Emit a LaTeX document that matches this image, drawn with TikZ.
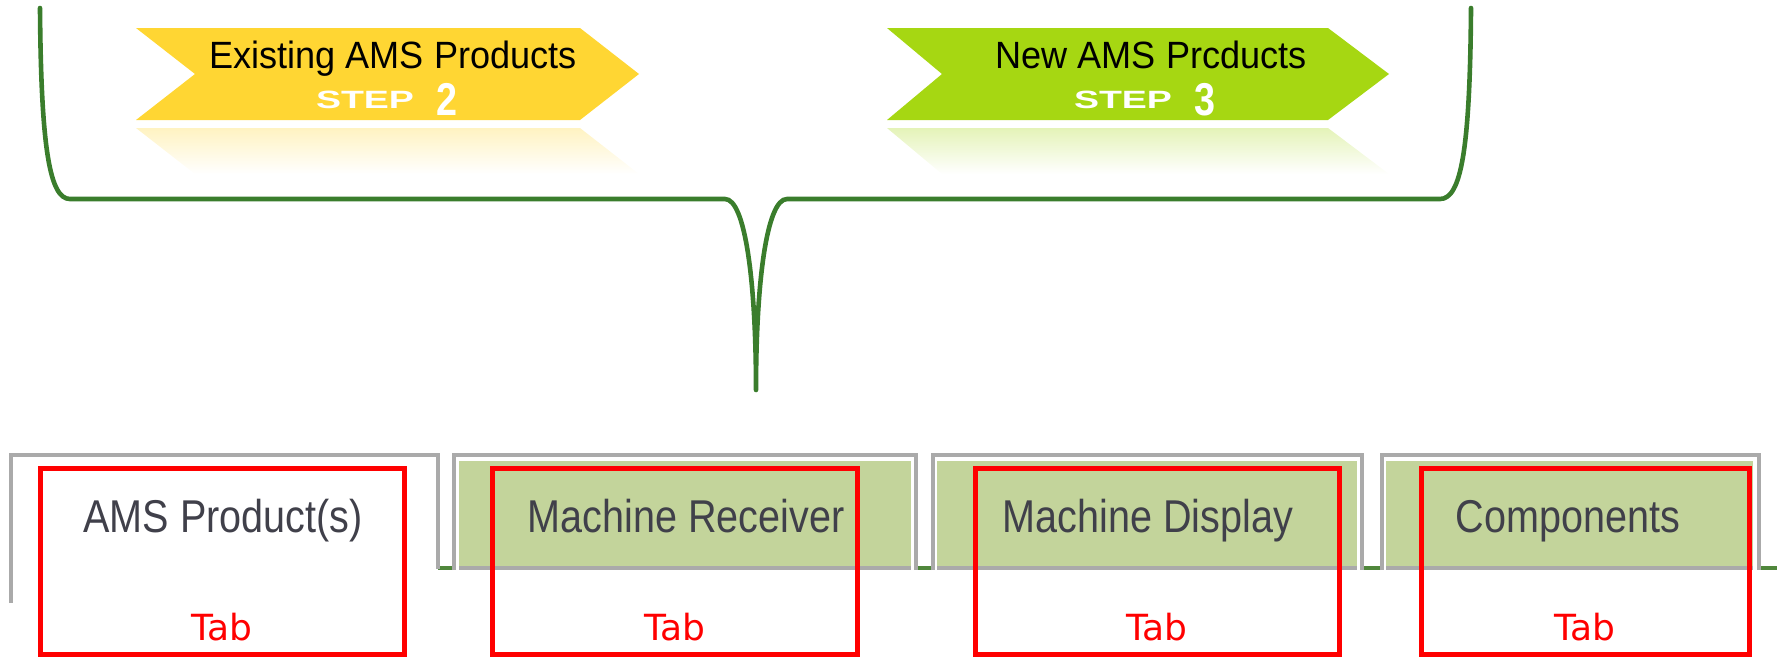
\documentclass[tikz,border=0pt]{standalone}
\usepackage{fontspec}
\setmainfont{Liberation Sans}
\newfontfamily\dejavu{DejaVu Sans}
\definecolor{bracegreen}{RGB}{58,125,44}
\definecolor{ylw}{RGB}{255,214,51}
\definecolor{limeg}{RGB}{166,215,18}
\definecolor{tabfill}{RGB}{195,212,155}
\definecolor{tabgray}{RGB}{170,170,170}
\definecolor{baseg}{RGB}{80,135,60}
\definecolor{labelc}{RGB}{64,64,74}
\begin{document}
\begin{tikzpicture}[x=1pt,y=-1pt,
  bracepath/.style={draw=bracegreen, line width=4.6pt, line cap=round, line join=round},
  bannertitle/.style={anchor=base, inner sep=0pt, text=black, font=\fontsize{38}{38}\selectfont},
  steptext/.style={anchor=base, inner sep=0pt, text=white, font=\bfseries\fontsize{25}{25}\selectfont},
  stepnum/.style={anchor=base, inner sep=0pt, text=white, font=\bfseries\fontsize{46}{46}\selectfont},
  tablabel/.style={anchor=base, inner sep=0pt, text=labelc, font=\fontsize{46}{46}\selectfont},
  tabtext/.style={anchor=base, inner sep=0pt, text=red, font=\dejavu\fontsize{36}{36}\selectfont},
  redbox/.style={draw=red, line width=5pt, inner sep=0pt, minimum height=186pt},
  taboutline/.style={draw=tabgray, line width=3.8pt},
  tabbottom/.style={draw=tabgray, line width=3.8pt},
  basegreen/.style={draw=baseg, line width=3.3pt},
]
\useasboundingbox (0,0) rectangle (1777,657);

% ---- brace ----
\coordinate (bl) at (40,8);
\coordinate (br) at (1471,8);
\coordinate (tip) at (756,390);
\path[bracepath] (bl) .. controls (41,150) and (50,199) .. (70,199)
  -- (725,199) .. controls (745,199) and (756,280) .. (tip)
  .. controls (756,280) and (767,199) .. (787,199)
  -- (1440,199) .. controls (1461,199) and (1470,150) .. (br);

% ---- banners ----
\shade[top color=ylw!30, bottom color=white] (136,128) -- (580,128) -- (639,174) -- (195,174) -- cycle;
\fill[ylw] (136,28) -- (580,28) -- (639,74) -- (580,120) -- (136,120) -- (195,74) -- cycle;
\node[bannertitle] (ex) at (393,68) {\scalebox{0.95}[1]{Existing AMS Products}};
\node[steptext] (exstep) at (365,108) {\scalebox{1.5}[1]{STEP}};
\node[stepnum] (exnum) at (446.5,115) {\scalebox{0.82}[1]{2}};

\shade[top color=limeg!30, bottom color=white] (887,128) -- (1328,128) -- (1389,174) -- (942,174) -- cycle;
\fill[limeg] (887,28) -- (1328,28) -- (1389,74) -- (1328,120) -- (887,120) -- (942,74) -- cycle;
\node[bannertitle] (nw) at (1151,68) {\scalebox{0.95}[1]{New AMS Prcducts}};
\node[steptext] (nwstep) at (1123,108) {\scalebox{1.5}[1]{STEP}};
\node[stepnum] (nwnum) at (1204.5,115) {\scalebox{0.82}[1]{3}};

% ---- green baseline segments ----
\draw[basegreen] (9,568) -- (13,568);
\draw[basegreen] (438,568) -- (454,568);
\draw[basegreen] (916,568) -- (933,568);
\draw[basegreen] (1362,568) -- (1382,568);
\draw[basegreen] (1759,568) -- (1777,568);

% ---- tabs ----
\draw[taboutline] (11,603) -- (11,455) -- (438,455) -- (438,569);

\fill[tabfill] (459,461) rectangle (911,567);
\draw[tabbottom] (459,568) -- (911,568);
\draw[taboutline] (454,570) -- (454,455) -- (916,455) -- (916,570);

\fill[tabfill] (937,461) rectangle (1357,567);
\draw[tabbottom] (937,568) -- (1357,568);
\draw[taboutline] (933,570) -- (933,455) -- (1362,455) -- (1362,570);

\fill[tabfill] (1386,461) rectangle (1753,567);
\draw[tabbottom] (1386,568) -- (1753,568);
\draw[taboutline] (1382,570) -- (1382,455) -- (1759,455) -- (1759,570);

\node[tablabel] (l1) at (223,532) {\scalebox{0.86}[1]{AMS Product(s)}};
\node[tablabel] (l2) at (686,532) {\scalebox{0.86}[1]{Machine Receiver}};
\node[tablabel] (l3) at (1148,532) {\scalebox{0.86}[1]{Machine Display}};
\node[tablabel] (l4) at (1568,532) {\scalebox{0.86}[1]{Components}};

% ---- red boxes ----
\node[redbox, minimum width=364pt] (r1) at (222,561) {};
\node[redbox, minimum width=365pt] (r2) at (674.5,561) {};
\node[redbox, minimum width=364pt] (r3) at (1157,561) {};
\node[redbox, minimum width=328pt] (r4) at (1585,561) {};
\node[tabtext] (t1) at (222,640) {Tab};
\node[tabtext] (t2) at (674.5,640) {Tab};
\node[tabtext] (t3) at (1157,640) {Tab};
\node[tabtext] (t4) at (1585,640) {Tab};
\end{tikzpicture}
\end{document}
